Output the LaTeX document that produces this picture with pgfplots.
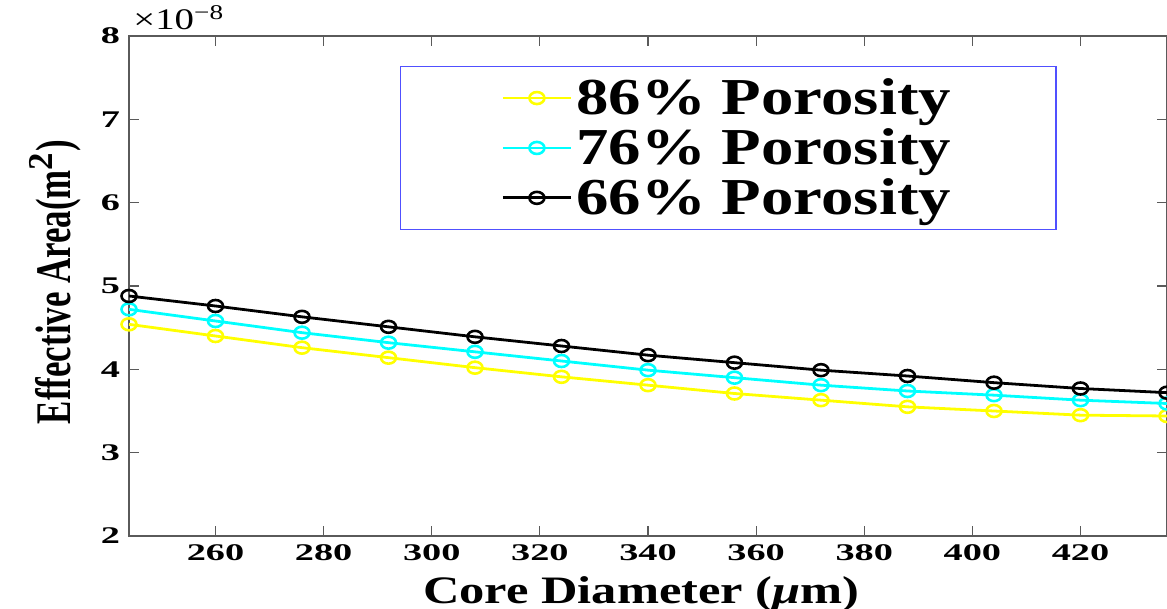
\documentclass[border=0pt]{standalone}
\usepackage{fontspec}
\setmainfont{Liberation Serif}
\newfontfamily\legfont{Liberation Serif}[FakeStretch=1.25]
\newfontfamily\tickfont{Liberation Serif}[FakeStretch=1.6]
\newfontfamily\xlabfont{Liberation Serif}[FakeStretch=1.3]
\newfontfamily\ylabfont{Liberation Serif}[FakeStretch=0.7]
\newfontfamily\expfont{Liberation Serif}[FakeStretch=1.3]
\usepackage{pgfplots}
\pgfplotsset{compat=1.18}
\definecolor{axgray}{RGB}{90,90,90}
\definecolor{legblue}{RGB}{80,80,255}
\begin{document}
\begin{tikzpicture}
\begin{axis}[
  scale only axis,
  width=519bp, height=250bp,
  xmin=244, xmax=436, ymin=2, ymax=8,
  xtick={260,280,...,420}, ytick={2,3,...,8},
  tick align=inside,
  major tick length=5bp,
  axis line style={axgray, line width=0.8pt},
  every tick/.style={axgray, line width=0.6pt},
  /pgf/number format/assume math mode=true,
  tick label style={font=\tickfont\bfseries\fontsize{12}{13}\selectfont},
  xticklabel style={yshift=-1bp},
  yticklabel style={xshift=-1bp},
  xlabel={Core Diameter (\textit{μ}m)},
  xlabel style={font=\xlabfont\bfseries\fontsize{19.5}{20}\selectfont, at={(axis description cs:0.4937,-0.134)}, anchor=base},
  ylabel={Effective Area(m$^{\mathbf{2}}$)},
  ylabel style={font=\ylabfont\bfseries\fontsize{25}{26}\selectfont, at={(axis description cs:-0.0713,0.508)}, anchor=center, rotate=0},
  legend cell align=left,
  legend style={at={(rel axis cs:0.261,0.94)}, anchor=north west, draw=legblue, line width=0.6pt,
    font=\legfont\bfseries\fontsize{26}{27}\selectfont, inner xsep=50.5bp, inner ysep=4bp,
    row sep=1.5bp},
  legend image code/.code={\draw[mark repeat=2,mark phase=2,#1] plot coordinates {(0bp,0bp)(17bp,0bp)(34bp,0bp)};},
  every axis plot/.append style={line width=1.4pt, mark=o, mark size=3bp, mark options={xscale=1.25, line width=1.3pt}},
]
\addplot[color={rgb,1:red,1;green,1;blue,0}] coordinates {
(244,4.54)(260,4.40)(276,4.26)(292,4.14)(308,4.02)(324,3.91)(340,3.81)(356,3.71)(372,3.63)(388,3.55)(404,3.50)(420,3.45)(436,3.44)};
\addlegendentry{86\% Porosity}
\addplot[color={rgb,1:red,0;green,1;blue,1}] coordinates {
(244,4.72)(260,4.58)(276,4.44)(292,4.32)(308,4.21)(324,4.10)(340,3.99)(356,3.90)(372,3.81)(388,3.74)(404,3.69)(420,3.63)(436,3.59)};
\addlegendentry{76\% Porosity}
\addplot[color=black] coordinates {
(244,4.88)(260,4.76)(276,4.63)(292,4.51)(308,4.39)(324,4.28)(340,4.17)(356,4.08)(372,3.99)(388,3.92)(404,3.84)(420,3.77)(436,3.72)};
\addlegendentry{66\% Porosity}
\end{axis}
\node[anchor=base west, inner sep=0pt, font=\expfont\fontsize{15}{15}\selectfont, xshift=2bp, yshift=3bp] at (current axis.north west) {×10\textsuperscript{−8}};
\pgfresetboundingbox
\path ([xshift=-64.5bp,yshift=-36.5bp]current axis.south west) rectangle ([yshift=18bp]current axis.north east);
\end{tikzpicture}
\end{document}
